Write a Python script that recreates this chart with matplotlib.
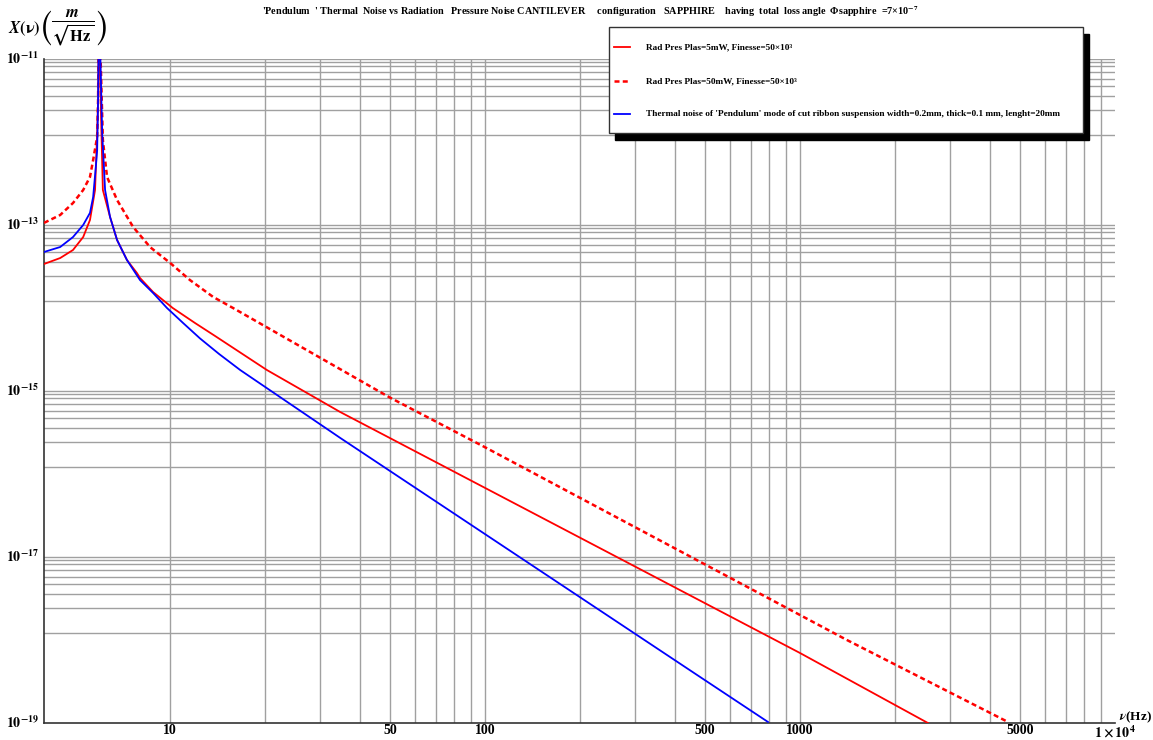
import numpy as np
import matplotlib.pyplot as plt
from matplotlib.lines import Line2D
from matplotlib.patches import Rectangle

plt.rcParams['font.family'] = ['Liberation Serif', 'DejaVu Serif']
plt.rcParams['font.weight'] = 'bold'
plt.rcParams['mathtext.fontset'] = 'stix'

# values (frequency in Hz, amplitude in m/sqrt(Hz))
f_rad5 = [3.98, 4.48, 4.92, 5.30, 5.57, 5.78, 5.87, 5.91, 5.95, 6.04, 6.12, 6.45, 6.79,
          7.30, 7.85, 8.03, 8.83, 10.2, 12.0, 13.9, 20.3, 34.7, 50, 100, 1000, 2547]
x_rad5 = [3.39e-14, 4.0e-14, 5.0e-14, 7.16e-14, 1.15e-13, 2.64e-13, 1.28e-12, 3.2e-12, 5e-11,
          2.0e-12, 2.64e-13, 1.25e-13, 6.59e-14, 3.78e-14, 2.64e-14, 2.3e-14, 1.56e-14, 1.0e-14,
          6.6e-15, 4.6e-15, 1.79e-15, 5.58e-16, 2.7e-16, 6.8e-17, 6.97e-19, 1.0e-19]

f_rad50 = [3.98, 4.48, 4.92, 5.30, 5.57, 5.70, 5.87, 5.91, 5.95, 6.12, 6.31, 6.79, 7.63,
           8.65, 10.0, 11.57, 13.7, 15.85, 50, 100, 1409, 4571]
x_rad50 = [1.06e-13, 1.32e-13, 1.84e-13, 2.64e-13, 3.79e-13, 6.07e-13, 1.15e-12, 3.2e-12, 5e-11,
           1.06e-12, 3.79e-13, 2.0e-13, 9.5e-14, 5.4e-14, 3.5e-14, 2.17e-14, 1.36e-14, 1.0e-14,
           8.3e-16, 2.1e-16, 1.0e-18, 1.03e-19]

f_th = [3.98, 4.48, 4.92, 5.30, 5.57, 5.70, 5.82, 5.87, 5.91, 5.95, 6.09, 6.22, 6.45, 6.79,
        7.30, 8.03, 8.83, 9.78, 11.0, 12.45, 14.3, 16.7, 34.7, 482, 791]
x_th = [4.73e-14, 5.43e-14, 7.16e-14, 1.0e-13, 1.40e-13, 2.17e-13, 5.28e-13, 8.0e-13, 3.2e-12,
        5e-11, 1.28e-12, 2.64e-13, 1.25e-13, 6.59e-14, 3.78e-14, 2.17e-14, 1.52e-14, 1.0e-14,
        6.6e-15, 4.3e-15, 2.8e-15, 1.79e-15, 2.72e-16, 3.58e-19, 1.03e-19]

xtick_vals = [10, 50, 100, 500, 1000, 5000, 10000]
xtick_labels = ['10', '50', '100', '500', '1000', '5000', r'$\mathbf{1\times10^{4}}$']
ytick_exps = [-11, -13, -15, -17, -19]

labels = ['Rad Pres Plas=5mW, Finesse=50×10³',
          'Rad Pres Plas=50mW, Finesse=50×10³',
          "Thermal noise of 'Pendulum' mode of cut ribbon suspension width=0.2mm, thick=0.1 mm, lenght=20mm"]

fig = plt.figure(figsize=(11.53, 7.40), dpi=100)
ax = fig.add_axes([44 / 1153, 17 / 740, 1071 / 1153, 664 / 740])
ax.set_xscale('log')
ax.set_yscale('log')
ax.set_xlim(3.98, 10000)
ax.set_ylim(1e-19, 1e-11)

# grid lines
for dec in [10, 100, 1000]:
    for k in range(1, 10):
        ax.axvline(k * dec, color='#a0a0a0', lw=1.0, zorder=0)
for e in [-11, -13, -15, -17]:
    for m in [1, 0.92, 0.82, 0.70, 0.58, 0.47, 0.36, 0.24, 0.12]:
        ax.axhline(m * 10.0 ** e, color='#a0a0a0', lw=1.0, zorder=0)

ax.plot(f_rad5, x_rad5, color='red', lw=1.3, zorder=3)
ax.plot(f_rad50, x_rad50, color='red', lw=1.8, dashes=(2.0, 1.3), zorder=3)
ax.plot(f_th, x_th, color='blue', lw=1.3, zorder=4)

for s in ['top', 'right']:
    ax.spines[s].set_visible(False)
for s in ['left', 'bottom']:
    ax.spines[s].set_color('#333333')
    ax.spines[s].set_linewidth(1.2)

ax.set_xticks(xtick_vals)
ax.set_xticklabels(xtick_labels, fontsize=10, fontweight='bold')
ax.xaxis.set_minor_locator(plt.NullLocator())
ax.set_yticks([10.0 ** e for e in ytick_exps])
ax.set_yticklabels([r'$\mathbf{10^{%d}}$' % e for e in ytick_exps], fontsize=10)
ax.yaxis.set_minor_locator(plt.NullLocator())
ax.tick_params(axis='x', length=0, pad=1)
ax.tick_params(axis='y', length=0, pad=4)
for t in ax.get_yticklabels():
    t.set_verticalalignment('center')

fig.text(590 / 1153, 1 - 12 / 740,
         "'Pendulum  ' Thermal  Noise vs Radiation   Pressure Noise CANTILEVER     configuration   "
         "SAPPHIRE    having  total  loss angle  Φsapphire  =7×10$^{-7}$",
         ha='center', va='center', fontsize=7.3, fontweight='bold')

fig.text(8 / 1153, 1 - 29 / 740, r'$\mathbf{\mathit{X}(\nu)}$',
         ha='left', va='center', fontsize=12)
fig.text(40 / 1153, 1 - 28 / 740,
         r'$\left(\frac{\mathbf{\mathit{m}}}{\sqrt{\mathbf{Hz}}}\right)$',
         ha='left', va='center', fontsize=17)
fig.text(1119 / 1153, 1 - 717 / 740, r'$\mathit{\nu}$(Hz)', ha='left', va='center',
         fontsize=9.5, fontweight='bold')

# legend box with hard shadow
W, H = 1153, 740
x0, y0, x1, y1 = 609, 27, 1083, 133
fig.patches.append(Rectangle((x0 / W + 6 / W, 1 - (y1 + 7) / H), (x1 - x0) / W, (y1 - y0) / H,
                             transform=fig.transFigure, facecolor='black', edgecolor='black', zorder=5))
fig.patches.append(Rectangle((x0 / W, 1 - y1 / H), (x1 - x0) / W, (y1 - y0) / H,
                             transform=fig.transFigure, facecolor='white', edgecolor='#333333',
                             lw=1.0, zorder=6))
styles = [dict(color='red', lw=1.3), dict(color='red', lw=1.8, dashes=(2.0, 1.3)),
          dict(color='blue', lw=1.3)]
for yy, st, lab in zip([47, 81, 114], styles, labels):
    fig.lines.append(Line2D([614 / W, 630 / W], [1 - yy / H, 1 - yy / H],
                            transform=fig.transFigure, zorder=7, **st))
    fig.text(646 / W, 1 - yy / H, lab, ha='left', va='center', fontsize=6.7,
             fontweight='bold', zorder=7)

fig.savefig('out.png', dpi=100)
